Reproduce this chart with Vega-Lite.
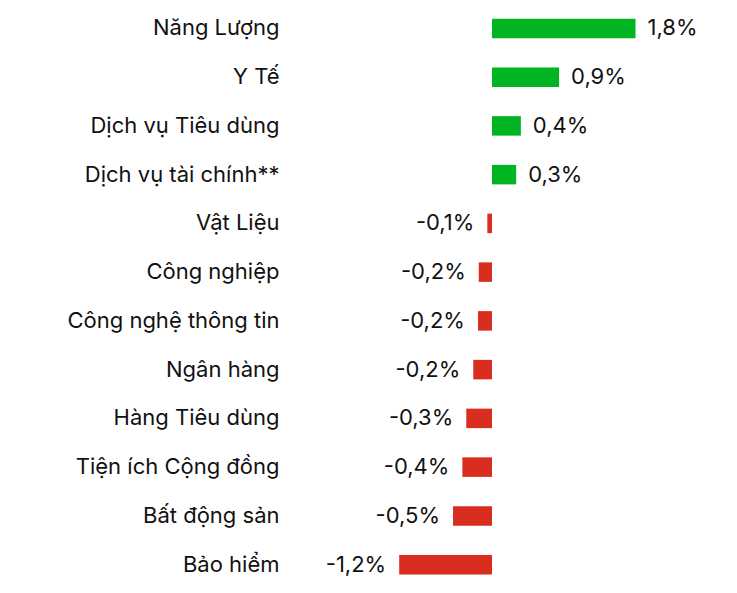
{
  "$schema": "https://vega.github.io/schema/vega-lite/v6.json",
  "autosize": {"type": "none"},
  "padding": {"left": 290, "top": 4, "right": 5, "bottom": 4},
  "width": 442,
  "height": 585,
  "background": "white",
  "config": {
    "view": {"stroke": null},
    "locale": {"number": {"decimal": ",", "thousands": ".", "grouping": [3], "currency": ["", ""], "minus": "-"}},
    "font": "Inter"
  },
  "data": {
    "values": [
      {"sector": "Năng Lượng", "change": 0.0184},
      {"sector": "Y Tế", "change": 0.0086},
      {"sector": "Dịch vụ Tiêu dùng", "change": 0.0037},
      {"sector": "Dịch vụ tài chính**", "change": 0.0031},
      {"sector": "Vật Liệu", "change": -0.0006},
      {"sector": "Công nghiệp", "change": -0.0017},
      {"sector": "Công nghệ thông tin", "change": -0.0018},
      {"sector": "Ngân hàng", "change": -0.0024},
      {"sector": "Hàng Tiêu dùng", "change": -0.0033},
      {"sector": "Tiện ích Cộng đồng", "change": -0.0038},
      {"sector": "Bất động sản", "change": -0.0050},
      {"sector": "Bảo hiểm", "change": -0.0119}
    ]
  },
  "encoding": {
    "y": {
      "field": "sector",
      "type": "nominal",
      "sort": null,
      "scale": {"paddingInner": 0.6, "paddingOuter": 0.3},
      "axis": {
        "title": null,
        "domain": false,
        "ticks": false,
        "tickSize": 0,
        "labelPadding": 11,
        "labelFontSize": 22,
        "labelColor": "#111111",
        "labelFont": "Inter",
        "labelLimit": 400
      }
    },
    "x": {
      "field": "change",
      "type": "quantitative",
      "scale": {"domain": [-0.0259, 0.03077], "nice": false, "zero": false},
      "axis": null
    }
  },
  "layer": [
    {
      "mark": {"type": "bar"},
      "encoding": {
        "color": {
          "condition": {"test": "datum.change >= 0", "value": "#00B521"},
          "value": "#D92D20"
        }
      }
    },
    {
      "transform": [{"filter": "datum.change >= 0"}],
      "mark": {"type": "text", "align": "left", "baseline": "middle", "dx": 12, "fontSize": 22, "color": "#111111", "font": "Inter"},
      "encoding": {"text": {"field": "change", "type": "quantitative", "format": ".1%"}}
    },
    {
      "transform": [{"filter": "datum.change < 0"}],
      "mark": {"type": "text", "align": "right", "baseline": "middle", "dx": -13, "fontSize": 22, "color": "#111111", "font": "Inter"},
      "encoding": {"text": {"field": "change", "type": "quantitative", "format": ".1%"}}
    }
  ]
}
